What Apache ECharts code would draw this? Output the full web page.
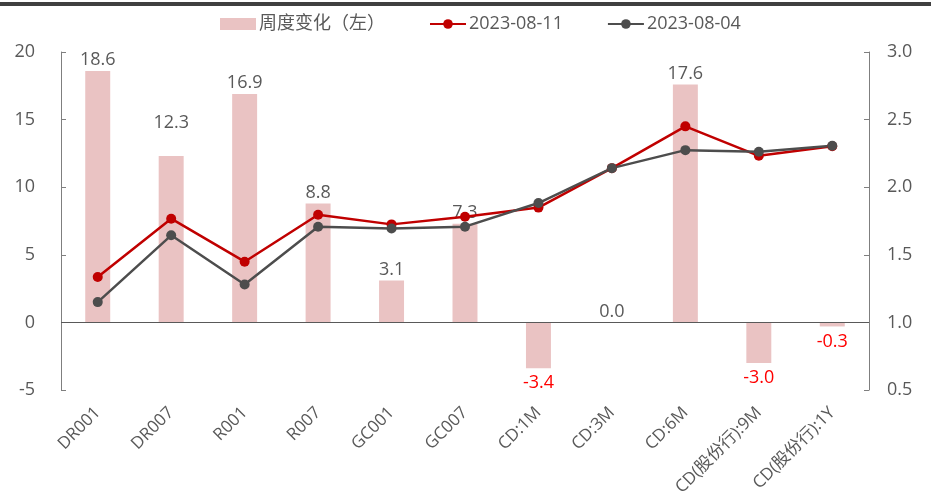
<!DOCTYPE html>
<html>
<head>
<meta charset="utf-8">
<script src="https://cdn.jsdelivr.net/npm/echarts@6/dist/echarts.min.js"></script>
<style>
  html, body { margin: 0; padding: 0; background: #fff; }
  #chart { width: 931px; height: 501px; }
</style>
</head>
<body>
<div id="chart"></div>
<script>
  // 数据
  const categories = ['DR001', 'DR007', 'R001', 'R007', 'GC001', 'GC007', 'CD:1M', 'CD:3M', 'CD:6M', 'CD(股份行):9M', 'CD(股份行):1Y']
  const weeklyChange = [18.6, 12.3, 16.9, 8.8, 3.1, 7.3, -3.4, 0.0, 17.6, -3.0, -0.3] // 周度变化(bp)
  const rate0811 = [1.336, 1.767, 1.449, 1.796, 1.725, 1.781, 1.849, 2.141, 2.450, 2.232, 2.303]
  const rate0804 = [1.150, 1.644, 1.280, 1.708, 1.694, 1.708, 1.883, 2.141, 2.274, 2.262, 2.306]

  const font = "'Open Sans', 'Noto Sans CJK SC', sans-serif"
  const txt = '#595959'

  const myChart = echarts.init(document.getElementById('chart'))
  const option = {
    textStyle: { fontFamily: font },
    graphic: [
      { type: 'rect', left: 0, top: 2, shape: { width: 931, height: 4 }, style: { fill: '#404040' } }
    ],
    legend: {
      top: 10,
      left: 215,
      itemGap: 44,
      itemWidth: 36,
      itemHeight: 12,
      textStyle: { color: txt, fontSize: 18, fontFamily: font, padding: [0, 0, 0, -2] },
      data: [
        { name: '周度变化（左）', icon: 'rect' },
        { name: '2023-08-11' },
        { name: '2023-08-04' }
      ]
    },
    grid: { left: 61, right: 62, top: 52, bottom: 111 },
    xAxis: {
      type: 'category',
      data: categories,
      axisLine: { show: false, onZero: false },
      axisTick: { show: false },
      axisLabel: { rotate: 45, color: txt, fontSize: 17, margin: 20, interval: 0 }
    },
    yAxis: [
      {
        type: 'value', min: -5, max: 20, interval: 5, position: 'left',
        axisLine: { show: true, lineStyle: { color: '#7f7f7f' } },
        axisTick: { show: true, inside: true, length: 5, lineStyle: { color: '#7f7f7f' } },
        axisLabel: { color: txt, fontSize: 18, margin: 26 },
        splitLine: { show: false }
      },
      {
        type: 'value', min: 0.5, max: 3.0, interval: 0.5, position: 'right',
        axisLine: { show: true, lineStyle: { color: '#7f7f7f' } },
        axisTick: { show: true, inside: true, length: 5, lineStyle: { color: '#7f7f7f' } },
        axisLabel: { color: txt, fontSize: 18, margin: 18, formatter: v => v.toFixed(1) },
        splitLine: { show: false }
      }
    ],
    series: [
      {
        name: '周度变化（左）',
        type: 'bar',
        yAxisIndex: 0,
        barWidth: '34%',
        itemStyle: { color: '#EAC3C3' },
        data: weeklyChange.map((v, i) => ({
          value: v,
          label: {
            show: true,
            position: v < 0 ? 'bottom' : 'top',
            // 12.3 的标签在原图中被上移以避开折线
            distance: v < 0 ? 6 : (i === 1 ? 24 : 2),
            color: v < 0 ? '#FF0000' : txt,
            fontSize: 18,
            formatter: p => p.value.toFixed(1)
          }
        })),
        markLine: {
          silent: true,
          symbol: 'none',
          label: { show: false },
          lineStyle: { color: '#595959', type: 'solid', width: 1.2 },
          data: [{ yAxis: 0 }]
        }
      },
      {
        name: '2023-08-11',
        type: 'line',
        yAxisIndex: 1,
        symbol: 'circle',
        symbolSize: 10,
        itemStyle: { color: '#C00000' },
        lineStyle: { color: '#C00000', width: 2.5 },
        data: rate0811
      },
      {
        name: '2023-08-04',
        type: 'line',
        yAxisIndex: 1,
        symbol: 'circle',
        symbolSize: 10,
        itemStyle: { color: '#4D4D4D' },
        lineStyle: { color: '#4D4D4D', width: 2.5 },
        data: rate0804
      }
    ]
  }
  option && myChart.setOption(option)
</script>
</body>
</html>
